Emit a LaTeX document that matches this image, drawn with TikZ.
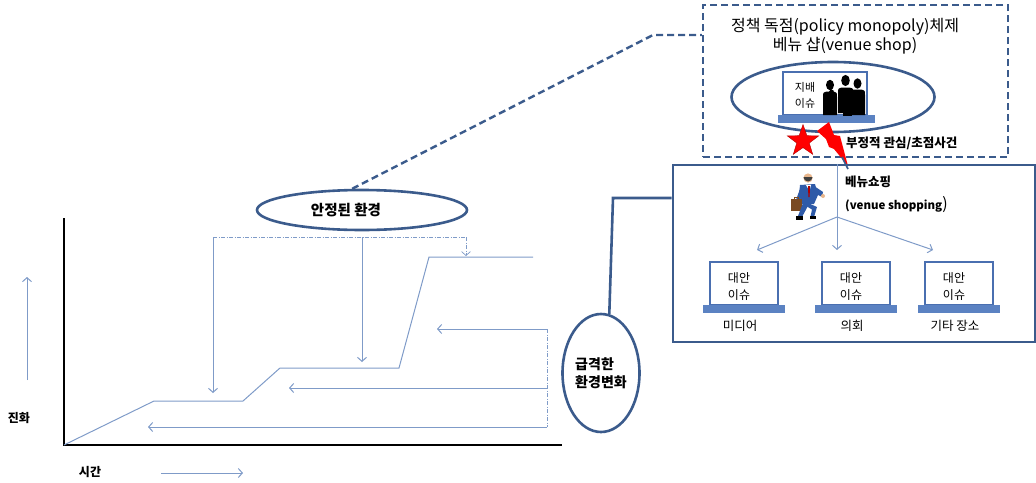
\documentclass[tikz,border=0pt]{standalone}
\usepackage{fontspec}
\setmainfont{Noto Sans CJK KR}
\usetikzlibrary{arrows.meta,shapes.geometric,calc}
\definecolor{navy}{HTML}{3B5B8C}
\definecolor{soft}{HTML}{7F9BC8}
\definecolor{lapedge}{HTML}{4A6FB0}
\definecolor{lapbase}{HTML}{5B82C2}
\definecolor{suit}{HTML}{2E5AA8}
\definecolor{skin}{HTML}{E8B68C}
\definecolor{case}{HTML}{7A4A22}

\begin{document}
\begin{tikzpicture}[x=1pt,y=-1pt,
  oval/.style={ellipse, draw=navy, line width=2.6pt, inner sep=0pt},
  screen/.style={draw=lapedge, line width=2.4pt, fill=white, minimum width=68pt, minimum height=43pt, inner sep=0pt},
  lapbar/.style={fill=lapbase, minimum width=82pt, minimum height=8pt, inner sep=0pt},
  flow/.style={soft, line width=1pt},
  tipflow/.style={flow, -{Straight Barb[length=4pt,width=9pt]}},
  dashdot/.style={soft, line width=0.7pt, dash pattern=on 4pt off 1.5pt on 1pt off 1.5pt},
  navydash/.style={navy, line width=2.4pt, dash pattern=on 7pt off 4pt},
  lbl/.style={font=\fontsize{12}{17}\selectfont, align=center, inner sep=0pt},
  boldlbl/.style={font=\bfseries\fontsize{12.5}{17}\selectfont, inner sep=0pt},
]
\useasboundingbox (0,0) rectangle (1036,482);

% ---------- axes and evolution curve ----------
\coordinate (origin) at (64,445);
\coordinate (ytop) at (64,218);
\coordinate (xend) at (562,445);
\draw[black, line width=2.6pt] (ytop) -- (origin) -- (xend);
\draw[flow] (origin) -- (154,401) -- (243,401) -- (280,368) -- (399,368) -- (429,257) -- (533,257);

% stable-period arrows from above
\coordinate (s1) at (213,237);
\coordinate (s2) at (362,237);
\coordinate (s3) at (466,237);
\draw[dashdot] (s1) -- (s3);
\draw[tipflow] (s1) -- (213,393);
\draw[tipflow] (s2) -- (362,362);
\draw[dashdot, -{Straight Barb[length=4pt,width=9pt]}] (s3) -- (466,256);

% rapid-change arrows from the right
\coordinate (r1) at (547,329);
\coordinate (r2) at (547,388);
\coordinate (r3) at (547,427);
\draw[dashdot] (r1) -- (r3);
\draw[tipflow] (r1) -- (437,329);
\draw[tipflow] (r2) -- (289,388);
\draw[tipflow] (r3) -- (148,427);

% axis captions
\draw[tipflow] (27,380) -- (27,277);
\node[boldlbl, font=\bfseries\fontsize{12}{14}\selectfont] (evo) at (19,418) {진화};
\node[boldlbl, font=\bfseries\fontsize{12}{14}\selectfont] (time) at (90,472) {시간};
\draw[tipflow] (161,473) -- (243,473);

% ---------- environment ovals ----------
\node[oval, minimum width=210pt, minimum height=40pt] (stable) at (362,210) {};
\node[boldlbl, font=\bfseries\fontsize{14.5}{17}\selectfont] (stabletxt) at (346,210) {안정된 환경};
\node[oval, minimum width=77pt, minimum height=118pt, align=left, font=\bfseries\fontsize{14}{18}\selectfont] (rapid) at (601,373) {급격한\\환경변화};

% ---------- policy monopoly box ----------
\node[draw=navy, line width=2.4pt, dash pattern=on 7pt off 4pt, minimum width=305pt, minimum height=152pt, inner sep=0pt] (shop) at (855.5,81) {};
\node[lbl, font=\fontsize{16}{18.5}\selectfont] (title) at (845,36) {정책 독점(policy monopoly)체제\\베뉴 샵(venue shop)};

\node[oval, minimum width=203pt, minimum height=70pt] (dom) at (833,97) {};
\node[screen, minimum width=84pt] (dscr) at (825,93.5) {};
\node[lapbar, minimum width=97pt] (dbase) at (826.5,119) {};
\node[lbl, font=\fontsize{11}{16}\selectfont] (domtxt) at (805,95) {지배\\이슈};

% group of silhouettes on the screen
\begin{scope}[black]
  \fill (830,85) ellipse (4 and 5.2);
  \fill (823,115) -- (823,97) .. controls (823,92.5) .. (827,91.5) -- (833,91.5) .. controls (837,92.5) .. (837,97) -- (837,115) -- cycle;
  \fill (826,96) -- (831,89) -- (834,91) -- (829,99) -- cycle;
  \fill (845.5,80.5) ellipse (4.3 and 5.6);
  \fill (838,113) -- (838,93) .. controls (838,88.5) .. (842,87.5) -- (849,87.5) .. controls (853.5,88.5) .. (853.5,93) -- (853.5,113) -- cycle;
  \fill (857.5,83.5) ellipse (4 and 5.2);
  \fill (851,115) -- (851,95) .. controls (851,90.5) .. (854.5,89.5) -- (861,89.5) .. controls (865,90.5) .. (865,95) -- (865,115) -- cycle;
  \fill (843,112) rectangle (852,116);
\end{scope}

% star and lightning of focusing events
\node[star, star points=5, star point ratio=2.5, fill=red, draw=red!70!black, line width=0.4pt, minimum size=33pt, inner sep=0pt] (star) at (803,141) {};
\fill[red] (817,131) -- (829,122) -- (834,135) -- (840,136) -- (848,166) -- (834,149) -- (829,147) -- (826,139) -- cycle;
\node[boldlbl, anchor=west] (neg) at (846,143) {부정적 관심/초점사건};

% ---------- venue shopping box ----------
\node[draw=navy, line width=2.6pt, minimum width=362pt, minimum height=177pt, inner sep=0pt] (venue) at (854,253.5) {};
\draw[navy, line width=1.6pt] (842,157) -- (848,169);

% running businessman
\begin{scope}
  \fill[suit] (800,185) -- (815,184) -- (818,195) -- (814,204) -- (802,204) -- (799,195) -- cycle;
  \fill[white] (806,185) -- (811,185) -- (809.5,191) -- cycle;
  \fill[red!70!black] (808,186) -- (810,186) -- (809.6,197) -- (808.4,197) -- cycle;
  \fill[suit] (814,186) -- (823,192) -- (822,197) -- (816,194) -- cycle;
  \fill[skin] (823,196) circle (2);
  \fill[suit] (801,186) -- (796,200) -- (799.5,201) -- (804,190) -- cycle;
  \fill[case] (791,199) rectangle (802,211);
  \draw[case, line width=0.8pt] (794.5,199) -- (794.5,197) -- (798.5,197) -- (798.5,199);
  \fill[suit] (803,203) -- (798,216) -- (802,217) -- (809,204) -- cycle;
  \fill[suit] (808,203) -- (817,207) -- (814,217) -- (810.5,216.5) -- (812,209.5) -- (806,206) -- cycle;
  \fill[black] (796,216) rectangle (803,220);
  \fill[black] (809.5,216) rectangle (816,219);
  \fill[skin] (808,178) circle (4.6);
  \fill[black!75] (803.5,177) arc (180:0:4.5) -- cycle;
\end{scope}

\node[boldlbl, anchor=west] (vsk) at (845,182) {베뉴쇼핑};
\node[boldlbl, anchor=west, font=\bfseries\fontsize{11.5}{14}\selectfont] (vse) at (845,205) {(venue shopping{\mdseries\fontsize{16}{16}\selectfont )}};

% branching towards alternative venues
\coordinate (fork) at (837,217);
\draw[flow] (fork |- venue.north) -- (fork);
\coordinate (t1) at (757,250);
\coordinate (t2) at (837,250);
\coordinate (t3) at (933,250);
\draw[tipflow] (fork) -- (t1);
\draw[tipflow] (fork) -- (t2);
\draw[tipflow] (fork) -- (t3);

\foreach \i/\x/\place in {1/744/미디어, 2/856/의회, 3/959/기타 장소} {
  \node[screen] (scr\i) at (\x,283.5) {};
  \node[lapbar] (bar\i) at (\x,309) {};
  \node[lbl, font=\fontsize{12}{17}\selectfont] (alt\i) at (\x-5,286.5) {대안\\이슈};
  \node[lbl, font=\fontsize{12.5}{15}\selectfont] (place\i) at (\x-4,326) {\place};
}

% ---------- connectors ----------
\coordinate (bend) at (653,35);
\draw[navydash] (stable.115) -- (bend) -- (shop.west |- bend);
\coordinate (elbow) at (613,198);
\draw[navy, line width=2.6pt] (venue.west |- elbow) -- (elbow) -- (rapid.82);
\end{tikzpicture}
\end{document}
